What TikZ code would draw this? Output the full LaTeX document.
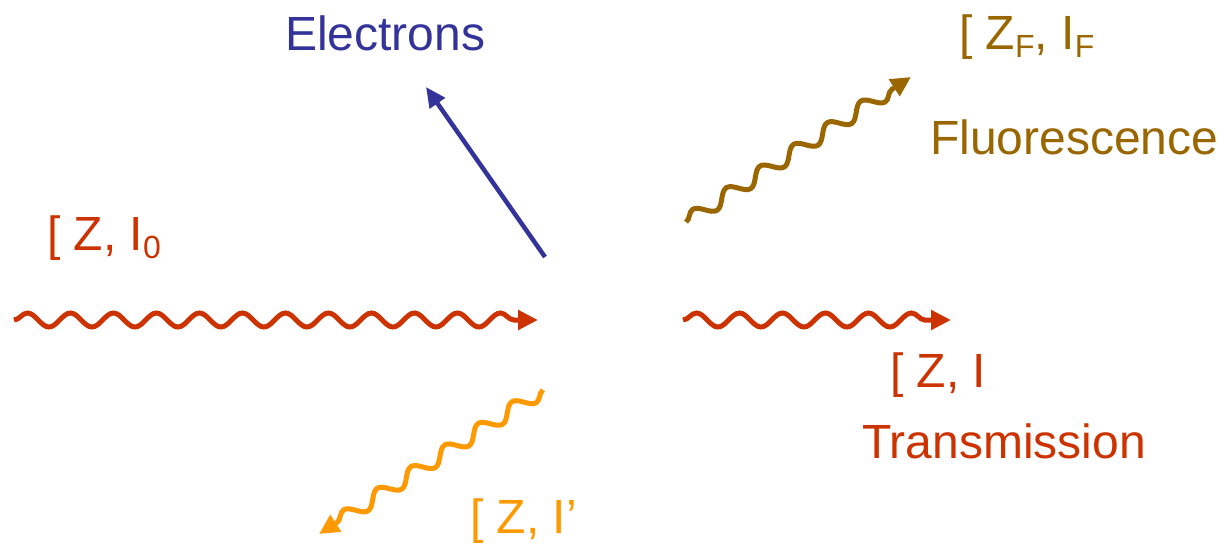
\documentclass[tikz,border=0pt]{standalone}
\usepackage{fontspec}
\setmainfont{Liberation Sans}
\usetikzlibrary{decorations.pathmorphing,arrows.meta}
\definecolor{wred}{RGB}{204,51,0}
\definecolor{wbrown}{RGB}{153,102,0}
\definecolor{worange}{RGB}{255,153,0}
\definecolor{wblue}{RGB}{51,51,153}
\newcommand{\lowsub}[1]{\raisebox{-0.35ex}{\fontsize{32}{36}\selectfont #1}}
\begin{document}
\begin{tikzpicture}[x=1pt,y=-1pt,
  wave/.style={line width=5pt, decorate,
    decoration={snake, segment length=#1, amplitude=7pt, post length=12pt},
    -{Triangle[length=20pt,width=19pt]}},
  wave/.default=43pt,
  lbl/.style={anchor=base west, inner sep=0pt, font=\fontsize{48}{56}\selectfont}]
\useasboundingbox (0,0) rectangle (1225,544);
% endpoints
\coordinate (inS) at (14,320);
\coordinate (inE) at (538,320);
\coordinate (trS) at (683,320);
\coordinate (trE) at (951,320);
\coordinate (flS) at (686,222);
\coordinate (flE) at (911,77);
\coordinate (scS) at (543,390);
\coordinate (scE) at (319,534);
\coordinate (elS) at (545,257);
\coordinate (elE) at (426,87);
% connectors
\draw[wave, wred] (inS) -- (inE);
\draw[wave, wred] (trS) -- (trE);
\draw[wave=40pt, wbrown] (flS) -- (flE);
\draw[wave=40pt, worange] (scS) -- (scE);
\draw[line width=4.5pt, wblue, -{Triangle[length=20pt,width=18pt]}] (elS) -- (elE);
% labels
\node[lbl, text=wblue] (electrons) at (285,50) {Electrons};
\node[lbl, text=wred] (incident) at (47,250) {[ Z, I\lowsub{0}};
\node[lbl, text=wbrown] (fluolab) at (959,49) {[ Z\lowsub{F}, I\lowsub{F}};
\node[lbl, text=wbrown] (fluo) at (930,154) {Fluorescence};
\node[lbl, text=wred] (translab) at (890,387) {[ Z, I};
\node[lbl, text=wred] (trans) at (862,458) {Transmission};
\node[lbl, text=worange] (scatlab) at (470,533) {[ Z, I'};
\end{tikzpicture}
\end{document}
